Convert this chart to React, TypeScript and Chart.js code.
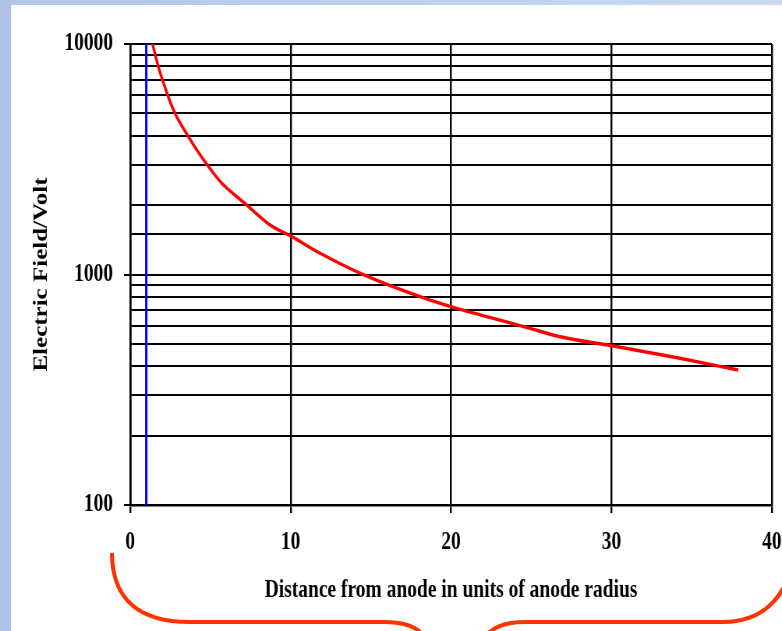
import React, { useEffect, useRef } from 'react';
import { Chart, registerables } from 'chart.js';

Chart.register(...registerables);

// ---- data ----
const distance = [1.39, 1.77, 2.18, 2.7, 3.63, 4.36, 5.61, 7.27, 8.72, 10.07, 11.84, 14.54, 18.69, 20.04, 24.7, 26.8, 30.07, 34.27, 37.9];
const field = [10000, 7900, 6450, 5170, 3960, 3300, 2530, 2000, 1640, 1460, 1236, 998, 774, 724, 590, 537, 490, 433, 385];
const anodeX = [1, 1];
const anodeY = [100, 10000];
const xTickValues = [0, 10, 20, 30, 40];
const yLabelValues = [100, 1000, 10000];
const xTitle = 'Distance from anode in units of anode radius';
const yTitle = 'Electric Field/Volt';

// ---- layout ----
const W = 782;
const H = 631;
const CW = 1003; // internal canvas width, squeezed horizontally to W
const SX = W / CW;

const serif = '"Liberation Serif", "Times New Roman", Times, serif';

export default function App() {
  const ref = useRef<HTMLCanvasElement | null>(null);

  useEffect(() => {
    document.body.style.margin = '0';
    const canvas = ref.current;
    if (!canvas) return;
    const font = { family: serif, size: 25, weight: 'bold' as const, lineHeight: 1.2 };

    const chart = new Chart(canvas, {
      type: 'scatter',
      data: {
        datasets: [
          {
            label: 'anode',
            data: anodeX.map((x, i) => ({ x, y: anodeY[i] })),
            showLine: true,
            borderColor: '#0000FF',
            borderWidth: 3,
            pointRadius: 0,
          },
          {
            label: 'field',
            data: distance.map((x, i) => ({ x, y: field[i] })),
            showLine: true,
            borderColor: '#FF0000',
            borderWidth: 3.4,
            pointRadius: 0,
            cubicInterpolationMode: 'monotone',
          },
        ],
      },
      options: {
        animation: false,
        responsive: false,
        devicePixelRatio: 1,
        layout: { padding: { top: 44, right: 13, bottom: 0, left: 0 } },
        plugins: { legend: { display: false }, tooltip: { enabled: false } },
        scales: {
          x: {
            type: 'linear',
            min: 0,
            max: 40,
            afterBuildTicks: (scale: any) => {
              scale.ticks = xTickValues.map((v) => ({ value: v }));
            },
            afterFit: (scale: any) => {
              scale.height = 126;
              scale.paddingLeft = 0;
              scale.paddingRight = 0;
            },
            grid: {
              color: '#000',
              lineWidth: 2.4,
              tickLength: 8,
              tickColor: '#000',
              tickWidth: 2.4,
            },
            border: { display: true, color: '#000', width: 2.6 },
            ticks: {
              color: '#000',
              font,
              padding: 15,
              maxRotation: 0,
              autoSkip: false,
              callback: (v: any) => String(v),
            },
            title: {
              display: true,
              text: xTitle,
              color: '#000',
              font,
              padding: { top: 0, bottom: 25 },
            },
          },
          y: {
            type: 'logarithmic',
            min: 100,
            max: 10000,
            afterFit: (scale: any) => {
              scale.width = 167;
              scale.paddingTop = 0;
              scale.paddingBottom = 0;
            },
            grid: {
              color: '#000',
              lineWidth: 2,
              tickLength: 8,
              tickWidth: 2,
              tickColor: (ctx: any) => {
                const v = ctx.tick ? ctx.tick.value : 0;
                return yLabelValues.includes(v) ? '#000' : 'rgba(0,0,0,0)';
              },
            },
            border: { display: true, color: '#000', width: 2.6 },
            ticks: {
              color: '#000',
              font,
              padding: 14,
              autoSkip: false,
              callback: (v: any) => (yLabelValues.includes(Number(v)) ? String(v) : ''),
            },
            title: {
              display: true,
              text: yTitle,
              color: '#000',
              font,
              padding: { top: 39, bottom: 0 },
            },
          },
        },
      },
    });
    return () => chart.destroy();
  }, []);

  return (
    <div
      style={{
        position: 'fixed',
        left: 0,
        top: 0,
        width: W,
        height: H,
        overflow: 'hidden',
        background: '#FFFFFF',
      }}
    >
      <div
        style={{
          position: 'absolute',
          left: 0,
          top: 0,
          width: W,
          height: 5,
          background: 'linear-gradient(to right, #B2C5EA, #CCD9F1)',
        }}
      />
      <div
        style={{
          position: 'absolute',
          left: 0,
          top: 0,
          width: 11,
          height: H,
          background: '#AFC3EA',
        }}
      />
      <div
        style={{
          position: 'absolute',
          left: 0,
          top: 0,
          width: CW,
          height: H,
          transform: `scaleX(${SX})`,
          transformOrigin: '0 0',
        }}
      >
        <canvas ref={ref} width={CW} height={H} style={{ display: 'block' }} />
      </div>
      <svg
        width={W}
        height={H}
        style={{ position: 'absolute', left: 0, top: 0, pointerEvents: 'none' }}
      >
        <path
          d="M112 553 C112 600 140 622 190 622 L385 622 C405 622 417 627 424 636"
          fill="none"
          stroke="#FF3300"
          strokeWidth={4}
        />
        <path
          d="M486 636 C493 627 505 622 525 622 L722 622 C755 622 775 606 786 583"
          fill="none"
          stroke="#FF3300"
          strokeWidth={4}
        />
      </svg>
    </div>
  );
}
